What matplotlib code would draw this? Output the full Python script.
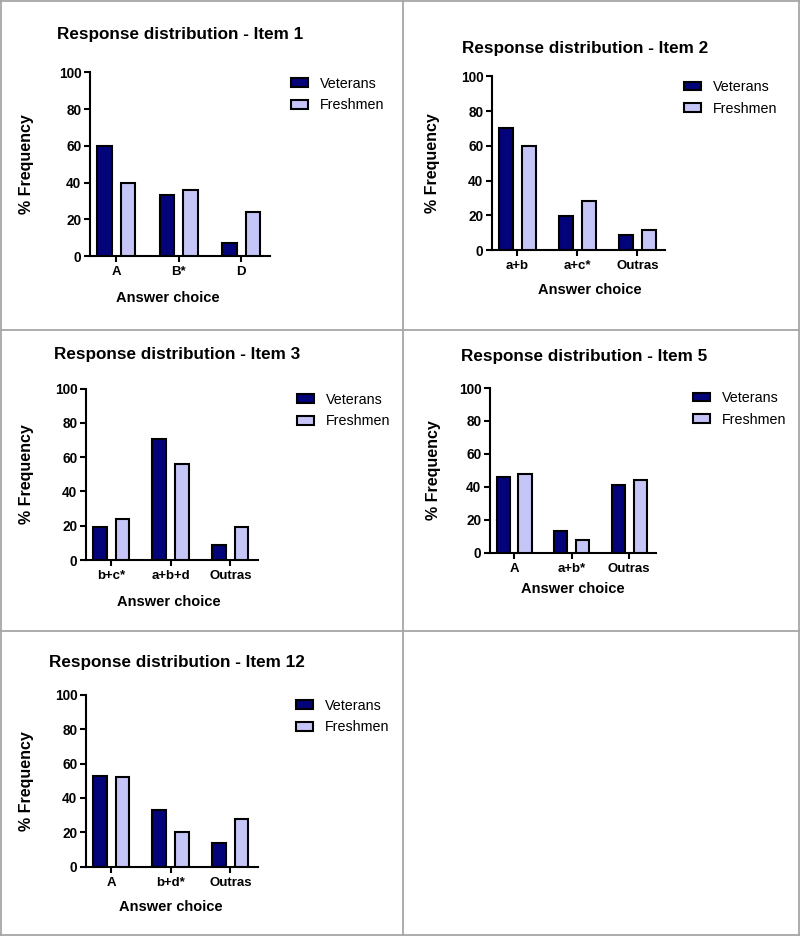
import matplotlib
matplotlib.use("Agg")
import matplotlib.pyplot as plt
from matplotlib.patches import Patch
from matplotlib.lines import Line2D
import numpy as np

plt.rcParams['font.family'] = ['Liberation Sans', 'DejaVu Sans']

# ---- data ----
titles = ["Response distribution - Item 1", "Response distribution - Item 2",
          "Response distribution - Item 3", "Response distribution - Item 5",
          "Response distribution - Item 12"]
cats1 = ["A", "B*", "D"]
vet1 = [60, 33, 7]
fre1 = [40, 36, 24]
cats2 = ["a+b", "a+c*", "Outras"]
vet2 = [70.5, 19.5, 8.8]
fre2 = [60, 28, 11.5]
cats3 = ["b+c*", "a+b+d", "Outras"]
vet3 = [19.5, 70.5, 8.7]
fre3 = [24, 56, 19.5]
cats5 = ["A", "a+b*", "Outras"]
vet5 = [46, 13, 41]
fre5 = [48, 8, 44]
cats12 = ["A", "b+d*", "Outras"]
vet12 = [53, 33, 14]
fre12 = [52, 20, 28]
series_names = ["Veterans", "Freshmen"]
yticks = [0, 20, 40, 60, 80, 100]

W, H = 800, 936
fig = plt.figure(figsize=(W / 100, H / 100), dpi=100)
fig.patch.set_facecolor('white')

C_VET = '#03037a'
C_FRE = '#c5c5f7'

# layout in pixels: axes (left, top, right, bottom), title (x, y), legend (x, ytop),
# ylabel right edge x, xlabel (center x, top y)
layout = [
    dict(ax=(90, 72.3, 270, 256), title=(57, 34), leg=(291, 76.5), yl=34, xl=(168, 291)),
    dict(ax=(492, 76.3, 665, 250), title=(461.5, 48), leg=(684, 80), yl=440.5, xl=(590, 283)),
    dict(ax=(86, 388.7, 257.7, 560), title=(54, 354.5), leg=(296.5, 392.5), yl=33.5, xl=(169, 595)),
    dict(ax=(490, 388, 655.7, 552.7), title=(460.5, 356.5), leg=(693, 391), yl=440.5, xl=(573, 582)),
    dict(ax=(86, 694.7, 257.7, 866.7), title=(49, 662.5), leg=(296, 698.5), yl=34, xl=(171, 900)),
]
datasets = [(cats1, vet1, fre1), (cats2, vet2, fre2), (cats3, vet3, fre3),
            (cats5, vet5, fre5), (cats12, vet12, fre12)]

bw = 0.23
off = 0.19
lw = 1.5

for lay, (cats, v, f), title in zip(layout, datasets, titles):
    l, t, r, b = lay['ax']
    ax = fig.add_axes([l / W, 1 - b / H, (r - l) / W, (b - t) / H])
    x = np.arange(len(cats))
    ax.bar(x - off, v, width=bw, color=C_VET, edgecolor='black', linewidth=lw, zorder=3)
    ax.bar(x + off, f, width=bw, color=C_FRE, edgecolor='black', linewidth=lw, zorder=3)
    ax.set_xlim(-0.42, 2.46)
    ax.set_ylim(0, 100)
    ax.set_yticks(yticks)
    ax.set_xticks(x)
    ax.set_xticklabels(cats, fontsize=9.5, fontweight='bold')
    ax.set_yticklabels([str(y) for y in yticks], fontsize=9.8, fontweight='bold')
    for s in ['top', 'right']:
        ax.spines[s].set_visible(False)
    for s in ['left', 'bottom']:
        ax.spines[s].set_linewidth(lw)
    ax.tick_params(axis='both', direction='out', length=4, width=lw, pad=2.3)
    ax.tick_params(axis='x', pad=3.5)
    # labels
    ax.set_ylabel("% Frequency", fontsize=11.5, fontweight='bold')
    ax.yaxis.set_label_coords((lay['yl'] - l) / (r - l), 0.5)
    ax.set_xlabel("Answer choice", fontsize=10.5, fontweight='bold')
    xlx, xly = lay['xl']
    ax.xaxis.set_label_coords((xlx - l) / (r - l), (b - xly) / (b - t))
    # title
    tx, ty = lay['title']
    fig.text(tx / W, 1 - ty / H, title, fontsize=12.3, fontweight='bold', ha='left', va='center')
    # legend
    lx, ly = lay['leg']
    handles = [Patch(facecolor=C_VET, edgecolor='black', linewidth=lw),
               Patch(facecolor=C_FRE, edgecolor='black', linewidth=lw)]
    ax.legend(handles, series_names, loc='upper left', bbox_to_anchor=(lx / W, 1 - ly / H),
              bbox_transform=fig.transFigure, frameon=False, fontsize=10.3,
              borderpad=0, borderaxespad=0, handlelength=1.2, handleheight=0.55,
              handletextpad=0.85, labelspacing=0.55)

# panel separator lines
gcol = '#a6a6a6'
glw = 1.3
def hline(y):
    fig.add_artist(Line2D([0, 1], [1 - y / H, 1 - y / H], color=gcol, linewidth=glw, transform=fig.transFigure))
def vline(xp):
    fig.add_artist(Line2D([xp / W, xp / W], [0, 1], color=gcol, linewidth=glw, transform=fig.transFigure))
hline(1)
hline(329.5)
hline(631)
hline(935)
vline(1)
vline(403)
vline(799)

fig.savefig("out.png", dpi=100, facecolor='white')
